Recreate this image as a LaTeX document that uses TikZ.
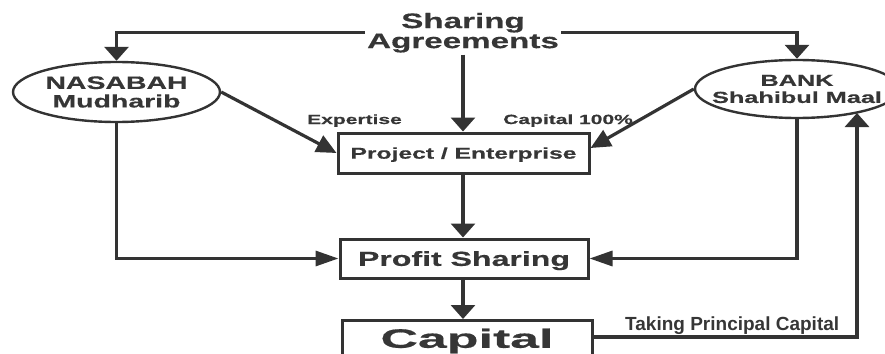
\documentclass[tikz,border=0pt]{standalone}
\usepackage{fontspec}
\usetikzlibrary{shapes.geometric,arrows.meta}
% wide bold sans used for the diagram labels
\newfontfamily\wf[FakeStretch=1.58,FakeBold=0.5]{Liberation Sans}
\newfontfamily\wfx[FakeStretch=1.95,FakeBold=0.5]{Liberation Sans}
\newfontfamily\tf{Liberation Sans}
\definecolor{ink}{HTML}{333333}
\definecolor{txt}{HTML}{363636}
\begin{document}
\begin{tikzpicture}[x=1pt,y=-1pt,
  ell/.style={ellipse, draw=ink, line width=2.4pt, inner xsep=-40pt, inner ysep=0pt, align=center, text=txt},
  box/.style={rectangle, draw=ink, line width=3pt, inner sep=0pt, align=center, text=txt},
  lbl/.style={text=txt, inner sep=0pt, anchor=base west},
  con/.style={draw=ink, line width=3.2pt},
  varr/.style={con, -{Triangle[length=14pt,width=24pt]}},
  harr/.style={con, -{Triangle[length=23pt,width=15pt]}},
  darr/.style={con, -{Triangle[length=20pt,width=18pt]}}]
\useasboundingbox (0,0) rectangle (885,353);

% parties and stages
\node[text=txt, align=center, inner xsep=2pt, inner ysep=2pt,
      font=\wf\bfseries\fontsize{21}{20}\selectfont] (agree) at (463,32.7) {Sharing\\Agreements};
\node[ell, minimum width=207pt, minimum height=60pt,
      font=\wf\bfseries\fontsize{18}{18.5}\selectfont] (nas) at (116.5,92) {NASABAH\\Mudharib};
\node[ell, minimum width=204pt, minimum height=58pt,
      font=\wf\bfseries\fontsize{16}{17}\selectfont] (bank) at (797,89) {BANK\\Shahibul Maal};
\node[box, minimum width=251pt, minimum height=40pt, text depth=0pt,
      font=\wf\bfseries\fontsize{15.6}{18}\selectfont] (proj) at (463.5,153) {Project / Enterprise};
\node[box, minimum width=248pt, minimum height=39pt, text depth=0pt,
      font=\wf\bfseries\fontsize{20.3}{22}\selectfont] (profit) at (464,258.5) {Profit Sharing};
\node[box, anchor=north, minimum width=250pt, inner ysep=8pt, text depth=40pt,
      font=\wfx\bfseries\fontsize{26.6}{30}\selectfont] (cap) at (467,319) {Capital};

% edge labels
\node[lbl, font=\wf\bfseries\fontsize{13.3}{14}\selectfont] (expl) at (307,124) {Expertise};
\node[lbl, font=\wf\bfseries\fontsize{13.3}{14}\selectfont] (capl) at (503,124) {Capital 100\%};
\node[lbl, font=\tf\bfseries\fontsize{19}{20}\selectfont] (take) at (625,330) {Taking Principal Capital};

% connectors
\draw[varr] (agree.west) -| (nas.north);
\draw[varr] (agree.east) -| (bank.north);
\draw[varr] (agree.south) -- (agree.south |- proj.north);
\draw[darr] (nas.east) -- (proj.west);
\draw[darr] (bank.west) -- ([yshift=5pt]proj.east);
\draw[varr] (proj.south -| agree.south) -- (agree.south |- profit.north);
\draw[harr] (nas.south) |- (profit.west);
\draw[harr] (bank.south) |- (profit.east);
\draw[varr] (profit.south -| agree.south) -- (agree.south |- cap.north);
\coordinate (turn) at (857,337);
\draw[varr] (cap.east |- turn) -- (turn) -- (turn |- bank.-21);
\end{tikzpicture}
\end{document}
